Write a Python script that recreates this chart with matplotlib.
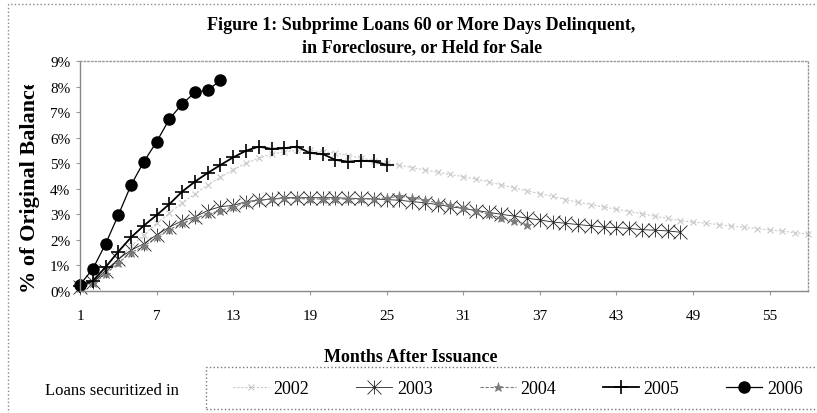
import numpy as np
import matplotlib
matplotlib.use("Agg")
import matplotlib.pyplot as plt
from matplotlib.path import Path
from matplotlib.patches import Rectangle

# -----------------------------
# DATA (% of original balance, by month after issuance)
# -----------------------------
v2002 = [0.15, 0.35, 0.75, 1.25, 1.75, 2.2, 2.65, 3.05, 3.45, 3.8,
         4.15, 4.45, 4.75, 5.0, 5.2, 5.35, 5.45, 5.5, 5.5, 5.45,
         5.4, 5.3, 5.2, 5.1, 5.0, 4.92, 4.83, 4.74, 4.65, 4.56,
         4.47, 4.38, 4.27, 4.15, 4.04, 3.92, 3.81, 3.7, 3.58, 3.47,
         3.38, 3.29, 3.2, 3.11, 3.02, 2.93, 2.84, 2.75, 2.7, 2.65,
         2.6, 2.54, 2.49, 2.44, 2.39, 2.34, 2.28, 2.23]
v2003 = [0.15, 0.35, 0.8, 1.25, 1.6, 1.85, 2.2, 2.5, 2.75, 2.9,
         3.15, 3.3, 3.35, 3.5, 3.55, 3.6, 3.65, 3.65, 3.65, 3.65,
         3.65, 3.63, 3.62, 3.6, 3.58, 3.55, 3.5, 3.45, 3.38, 3.3,
         3.23, 3.15, 3.08, 3.0, 2.93, 2.85, 2.78, 2.7, 2.65, 2.6,
         2.55, 2.5, 2.48, 2.45, 2.4, 2.38, 2.35, 2.3]
v2004 = [0.1, 0.3, 0.65, 1.1, 1.5, 1.75, 2.1, 2.4, 2.65, 2.85,
         3.0, 3.15, 3.3, 3.45, 3.55, 3.6, 3.62, 3.62, 3.6, 3.6,
         3.6, 3.6, 3.6, 3.6, 3.65, 3.7, 3.65, 3.55, 3.45, 3.35,
         3.25, 3.15, 3.0, 2.85, 2.75, 2.6]
v2005 = [0.2, 0.4, 0.93, 1.54, 2.1, 2.56, 2.97, 3.4, 3.89, 4.28,
         4.62, 4.93, 5.23, 5.49, 5.65, 5.56, 5.59, 5.65, 5.4, 5.36,
         5.13, 5.06, 5.1, 5.07, 4.94]
v2006 = [0.25, 0.86, 1.84, 2.97, 4.15, 5.06, 5.84, 6.73, 7.32, 7.77,
         7.86, 8.24]

x_ticks = [1, 7, 13, 19, 25, 31, 37, 43, 49, 55]
y_ticks = [0, 1, 2, 3, 4, 5, 6, 7, 8, 9]

# -----------------------------
# STYLE
# -----------------------------
plt.rcParams['font.family'] = ['Liberation Serif', 'DejaVu Serif']

# excel-like "star" marker: an x with a vertical bar
star = Path([(0, -1), (0, 1), (-1, -1), (1, 1), (-1, 1), (1, -1)],
            [Path.MOVETO, Path.LINETO, Path.MOVETO, Path.LINETO,
             Path.MOVETO, Path.LINETO])

fig = plt.figure(figsize=(8.17, 4.14), dpi=100)
ax = fig.add_axes([80 / 817, 1 - 292 / 414, 728 / 817, 230 / 414])


def months(vals):
    return np.arange(1, len(vals) + 1)


ax.plot(months(v2002), v2002, color='#c8c8c8', lw=0.8, ls=(0, (2, 1.5)),
        marker='x', ms=4.5, mew=0.8, label='2002', clip_on=False)
ax.plot(months(v2003), v2003, color='#222222', lw=0.6,
        marker=star, ms=10, mew=0.6, label='2003', clip_on=False)
ax.plot(months(v2004), v2004, color='#7a7a7a', lw=0.8, ls=(0, (3, 1.5)),
        marker='*', ms=6.5, mew=0.5, label='2004', clip_on=False)
ax.plot(months(v2005), v2005, color='black', lw=1.3,
        marker='+', ms=10, mew=1.2, label='2005', clip_on=False)
ax.plot(months(v2006), v2006, color='black', lw=0.9,
        marker='o', ms=8, label='2006', clip_on=False)

ax.set_xlim(1, 58)
ax.set_ylim(0, 9)
ax.set_xticks(x_ticks)
ax.set_yticks(y_ticks)
ax.set_yticklabels([f"{v}%" for v in y_ticks])
ax.tick_params(axis='x', labelsize=11, pad=10, length=3, color='#999999')
ax.tick_params(axis='y', labelsize=11, pad=4, length=3, color='#999999')

for side in ['left', 'bottom']:
    ax.spines[side].set_color('#888888')
    ax.spines[side].set_linewidth(1.0)
for side in ['top', 'right']:
    ax.spines[side].set_color('#999999')
    ax.spines[side].set_linestyle(':')
    ax.spines[side].set_linewidth(1.0)

# -----------------------------
# TEXT
# -----------------------------
fig.text(421 / 817, 1 - 25 / 414,
         "Figure 1: Subprime Loans 60 or More Days Delinquent,",
         ha='center', va='center', fontsize=13, fontweight='bold')
fig.text(422 / 817, 1 - 48 / 414, "in Foreclosure, or Held for Sale",
         ha='center', va='center', fontsize=13, fontweight='bold')

# y label is cut off at the top in the original
ylab = fig.text(30 / 817, 1 - 293 / 414, "% of Original Balance",
                rotation=90, ha='center', va='bottom',
                fontsize=16, fontweight='bold')
clip = Rectangle((0, 0), 1, 1 - 86 / 414, transform=fig.transFigure)
ylab.set_clip_path(clip)

fig.text(411 / 817, 1 - 357 / 414, "Months After Issuance",
         ha='center', va='center', fontsize=13, fontweight='bold')
fig.text(45 / 817, 1 - 391 / 414, "Loans securitized in",
         ha='left', va='center', fontsize=12)

# -----------------------------
# LEGEND + BORDERS
# -----------------------------
leg = fig.legend(loc='center left', ncol=5,
                 bbox_to_anchor=(233 / 817, 1 - 390 / 414),
                 borderaxespad=0, borderpad=0, fontsize=13, frameon=False,
                 handlelength=2.0, handletextpad=0.25, columnspacing=2.6)

fig.patches.append(Rectangle((206 / 817, 1 - 410 / 414), 0.9, 42 / 414,
                             transform=fig.transFigure, fill=False,
                             ec='#777777', ls=':', lw=1.0))
fig.patches.append(Rectangle((8 / 817, -0.1), 1.0, 1.1 - 5 / 414,
                             transform=fig.transFigure, fill=False,
                             ec='#888888', ls=':', lw=1.0))

fig.savefig("out.png", dpi=100)
